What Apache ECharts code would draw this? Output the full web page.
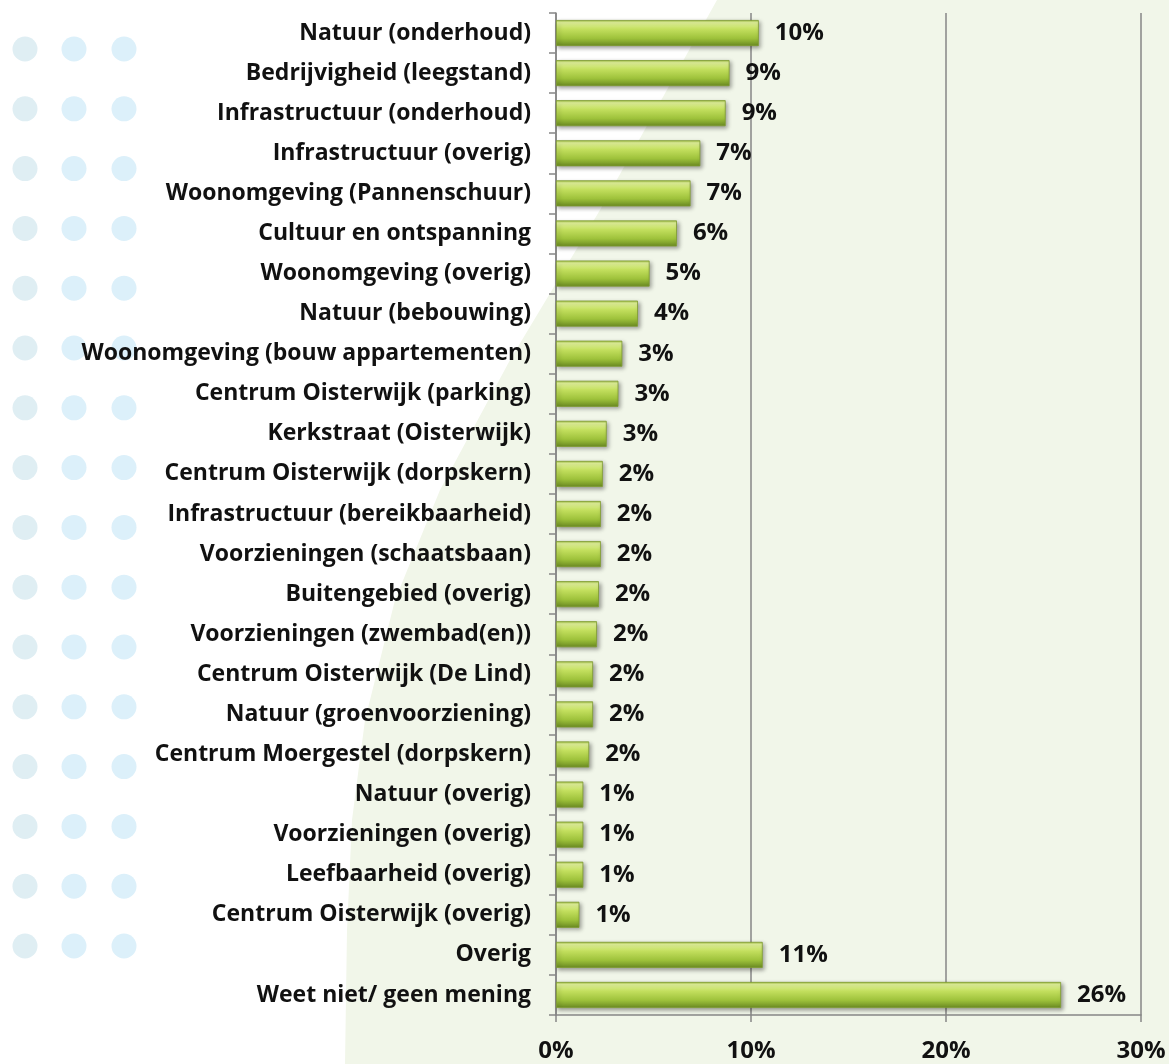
<!DOCTYPE html>
<html>
<head>
<meta charset="utf-8">
<script src="https://cdn.jsdelivr.net/npm/echarts@6/dist/echarts.min.js"></script>
<style>
  html, body { margin: 0; padding: 0; background: #ffffff; }
  #chart { width: 1169px; height: 1064px; }
</style>
</head>
<body>
<div id="chart"></div>
<script>
// categories top to bottom
const categories = [
  "Natuur (onderhoud)",
  "Bedrijvigheid (leegstand)",
  "Infrastructuur (onderhoud)",
  "Infrastructuur (overig)",
  "Woonomgeving (Pannenschuur)",
  "Cultuur en ontspanning",
  "Woonomgeving (overig)",
  "Natuur (bebouwing)",
  "Woonomgeving (bouw appartementen)",
  "Centrum Oisterwijk (parking)",
  "Kerkstraat (Oisterwijk)",
  "Centrum Oisterwijk (dorpskern)",
  "Infrastructuur (bereikbaarheid)",
  "Voorzieningen (schaatsbaan)",
  "Buitengebied (overig)",
  "Voorzieningen (zwembad(en))",
  "Centrum Oisterwijk (De Lind)",
  "Natuur (groenvoorziening)",
  "Centrum Moergestel (dorpskern)",
  "Natuur (overig)",
  "Voorzieningen (overig)",
  "Leefbaarheid (overig)",
  "Centrum Oisterwijk (overig)",
  "Overig",
  "Weet niet/ geen mening"
];
// percentages
const values = [10.4, 8.9, 8.7, 7.4, 6.9, 6.2, 4.8, 4.2, 3.4, 3.2, 2.6, 2.4, 2.3, 2.3, 2.2, 2.1, 1.9, 1.9, 1.7, 1.4, 1.4, 1.4, 1.2, 10.6, 25.9];
const xTicks = [0, 10, 20, 30];

const chart = echarts.init(document.getElementById("chart"));
const font = "Open Sans";

// decorative background: pale green sweep + blue dots on the left
const bg = [];
bg.push({
  type: "polygon",
  z: -10,
  shape: {
    points: [[717, 0], [1169, 0], [1169, 1064], [345, 1064], [347, 930], [352, 820], [365, 720],
             [395, 600], [440, 490], [510, 360], [600, 210], [717, 0]]
  },
  style: { fill: "#f1f6e9" }
});
for (let r = 0; r < 16; r++) {
  [25, 74, 124].forEach((cx, i) => {
    bg.push({
      type: "circle",
      z: -9,
      shape: { cx: cx, cy: 49 + r * 59.8, r: 12.5 },
      style: { fill: i === 0 ? "#dfeef3" : "#dcf0fa" }
    });
  });
}

const barColor = {
  type: "linear", x: 0, y: 0, x2: 0, y2: 1,
  colorStops: [
    { offset: 0, color: "#9dbd3e" },
    { offset: 0.1, color: "#e2f39a" },
    { offset: 0.35, color: "#c3df5e" },
    { offset: 0.7, color: "#9ec23b" },
    { offset: 1, color: "#6a8a22" }
  ]
};

const option = {
  backgroundColor: "transparent",
  animation: false,
  graphic: bg,
  grid: { left: 556, right: 28, top: 13, bottom: 49 },
  xAxis: {
    type: "value",
    min: 0,
    max: 30,
    interval: 10,
    axisLine: { show: true, lineStyle: { color: "#868686", width: 1.5 } },
    axisTick: { show: true, length: 7, lineStyle: { color: "#868686", width: 1.5 } },
    splitLine: { show: true, lineStyle: { color: "#868686", width: 1.5 } },
    axisLabel: {
      margin: 24,
      fontFamily: font,
      fontWeight: "bold",
      fontSize: 24,
      color: "#111",
      formatter: v => (xTicks.includes(v) ? v + "%" : "")
    }
  },
  yAxis: {
    type: "category",
    inverse: true,
    data: categories,
    axisLine: { show: true, lineStyle: { color: "#868686", width: 1.5 } },
    axisTick: { show: true, length: 7, lineStyle: { color: "#868686", width: 1.5 } },
    axisLabel: {
      margin: 25,
      fontFamily: font,
      fontWeight: "bold",
      fontSize: 23,
      color: "#111"
    }
  },
  series: [
    {
      type: "bar",
      data: values,
      barWidth: "65%",
      itemStyle: {
        color: barColor,
        borderColor: "#7f9c30",
        borderWidth: 0.8,
        shadowColor: "rgba(0,0,0,0.35)",
        shadowBlur: 4,
        shadowOffsetX: 2,
        shadowOffsetY: 2
      },
      label: {
        show: true,
        position: "right",
        distance: 16,
        fontFamily: font,
        fontWeight: "bold",
        fontSize: 24,
        color: "#111",
        formatter: p => Math.round(p.value) + "%"
      }
    }
  ]
};
chart.setOption(option);
</script>
</body>
</html>
